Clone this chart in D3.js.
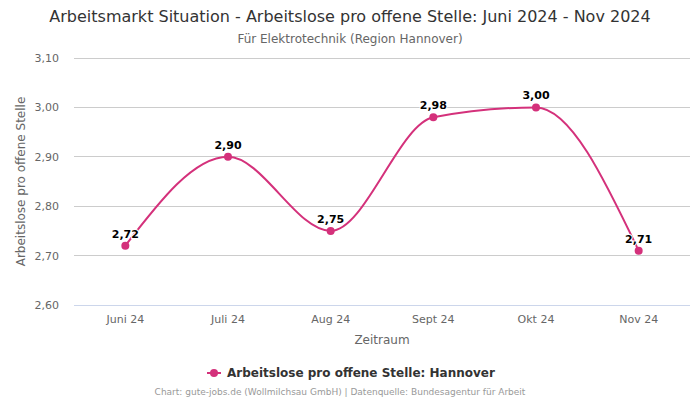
<!DOCTYPE html>
<html><head><meta charset="utf-8">
<script src="https://cdn.jsdelivr.net/npm/d3@7"></script>
<style>body{margin:0;background:#fff;font-family:"DejaVu Sans",sans-serif;}</style>
</head><body><svg id="c" width="700" height="400"></svg>
<script>
const categories = ["Juni 24","Juli 24","Aug 24","Sept 24","Okt 24","Nov 24"];
const values = [2.72, 2.90, 2.75, 2.98, 3.00, 2.71];
const yTicks = [2.60, 2.70, 2.80, 2.90, 3.00, 3.10];
const seriesName = "Arbeitslose pro offene Stelle: Hannover";
const color = "#d4317b";
const fmt = v => v.toFixed(2).replace(".", ",");

const svg = d3.select("#c");
const m = {l:74, r:10, t:58, b:95};
const W = 700, H = 400;
const x = d3.scaleBand().domain(categories).range([m.l, W - m.r]);
const y = d3.scaleLinear().domain([2.60, 3.10]).range([305, 58]);

svg.append("text").attr("x", 350).attr("y", 22).attr("text-anchor","middle")
  .attr("font-size", 16).attr("fill","#333").text("Arbeitsmarkt Situation - Arbeitslose pro offene Stelle: Juni 2024 - Nov 2024");
svg.append("text").attr("x", 350).attr("y", 43).attr("text-anchor","middle")
  .attr("font-size", 12).attr("fill","#666").text("Für Elektrotechnik (Region Hannover)");

// grid
svg.append("g").selectAll("line").data(yTicks.slice(1)).join("line")
  .attr("x1", m.l).attr("x2", W - m.r).attr("y1", d => y(d)).attr("y2", d => y(d))
  .attr("stroke", "#ccc").attr("stroke-width", 1).attr("shape-rendering","crispEdges");
svg.append("line").attr("x1", m.l).attr("x2", W - m.r).attr("y1", y(2.60)).attr("y2", y(2.60))
  .attr("stroke", "#ccd6eb").attr("shape-rendering","crispEdges");

// y labels
const yAxis = d3.axisLeft(y).tickValues(yTicks).tickFormat(fmt).tickSize(0).tickPadding(0);
const ga = svg.append("g").attr("transform", `translate(${m.l - 15},0)`).call(yAxis);
ga.select(".domain").remove();
ga.selectAll("text").attr("font-size", 11).attr("fill","#666").attr("font-family","DejaVu Sans").attr("dy","0.32em");

// x labels
const xAxis = d3.axisBottom(x).tickSize(0).tickPadding(0);
const gx = svg.append("g").attr("transform", `translate(0,${y(2.60) + 10})`).call(xAxis);
gx.select(".domain").remove();
gx.selectAll("text").attr("font-size", 11).attr("fill","#666").attr("font-family","DejaVu Sans").attr("dy","0.71em");

svg.append("text").attr("x", (m.l + W - m.r)/2).attr("y", 344).attr("text-anchor","middle")
  .attr("font-size", 12).attr("fill","#666").text("Zeitraum");
svg.append("text").attr("transform", `translate(25,${(58+305)/2}) rotate(-90)`).attr("text-anchor","middle")
  .attr("font-size", 12).attr("fill","#666").text("Arbeitslose pro offene Stelle");

const pts = categories.map((c,i) => [x(c) + x.bandwidth()/2, y(values[i])]);
svg.append("path").attr("d", d3.line().curve(d3.curveMonotoneX)(pts))
  .attr("fill","none").attr("stroke", color).attr("stroke-width", 2);
svg.append("g").selectAll("circle").data(pts).join("circle")
  .attr("cx", d => d[0]).attr("cy", d => d[1]).attr("r", 4).attr("fill", color);
svg.append("g").selectAll("text").data(pts).join("text")
  .attr("x", d => d[0]).attr("y", d => d[1] - 8).attr("text-anchor","middle")
  .attr("font-size", 11).attr("font-weight","bold").attr("fill","#000")
  .attr("stroke","#fff").attr("stroke-width",2).attr("paint-order","stroke")
  .text((d,i) => fmt(values[i]));

// legend
const lg = svg.append("g").attr("transform","translate(207,373)");
lg.append("line").attr("x1",0).attr("x2",14).attr("y1",0).attr("y2",0).attr("stroke",color).attr("stroke-width",2);
lg.append("circle").attr("cx",7).attr("cy",0).attr("r",4).attr("fill",color);
lg.append("text").attr("x",20).attr("y",0).attr("dy","0.35em").attr("font-size",12).attr("font-weight","bold")
  .attr("fill","#333").text(seriesName);

svg.append("text").attr("x",340).attr("y",395).attr("text-anchor","middle").attr("font-size",9).attr("fill","#999")
  .text("Chart: gute-jobs.de (Wollmilchsau GmbH) | Datenquelle: Bundesagentur für Arbeit");
</script></body></html>
